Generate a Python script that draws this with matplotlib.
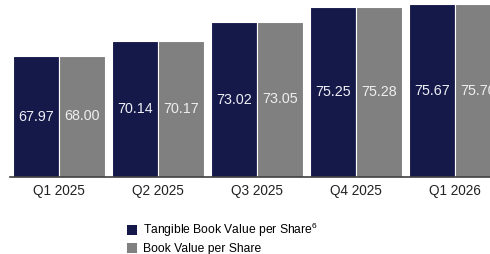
import numpy as np
import matplotlib
matplotlib.use('Agg')
import matplotlib.pyplot as plt
from matplotlib.patches import Patch

plt.rcParams['font.family'] = ['Liberation Sans', 'DejaVu Sans']
plt.rcParams['mathtext.fontset'] = 'custom'
plt.rcParams['mathtext.rm'] = 'Liberation Sans'
plt.rcParams['mathtext.it'] = 'Liberation Sans'

# data
quarters = ['Q1 2025', 'Q2 2025', 'Q3 2025', 'Q4 2025', 'Q1 2026']
tbvps = [67.97, 70.14, 73.02, 75.25, 75.67]
bvps = [68.00, 70.17, 73.05, 75.28, 75.70]

navy = '#15194a'
grey = '#808080'

fig = plt.figure(figsize=(4.9, 2.54), dpi=100)
ax = fig.add_axes([10/490, 77/254, 480/490, 177/254])

x = np.arange(len(quarters))
w = 0.465
off = 0.233
b1 = ax.bar(x - off, np.array(tbvps) - 50, w, bottom=50, color=navy,
            edgecolor='white', linewidth=0.8)
b2 = ax.bar(x + off, np.array(bvps) - 50, w, bottom=50, color=grey,
            edgecolor='white', linewidth=0.8)

for xi, v in zip(x, tbvps):
    ax.text(xi - off, (v + 50) / 2, f'{v:.2f}', ha='center', va='center',
            color='#eeeef4', fontsize=10.3)
for xi, v in zip(x, bvps):
    ax.text(xi + off, (v + 50) / 2, f'{v:.2f}', ha='center', va='center',
            color='#eeeeee', fontsize=10.3, clip_on=True)

ax.set_xlim(-0.495, 4.354)
ax.set_ylim(50, 76.3)
ax.set_xticks(x)
ax.set_xticklabels(quarters, fontsize=9.8, color='#222222')
ax.tick_params(axis='x', length=0, pad=5)
ax.set_yticks([])
for s in ['top', 'right', 'left']:
    ax.spines[s].set_visible(False)
ax.spines['bottom'].set_color('#404040')
ax.spines['bottom'].set_linewidth(1.2)

handles = [Patch(facecolor=navy, edgecolor='none'),
           Patch(facecolor=grey, edgecolor='none')]
labels = ['Tangible Book Value per Share$^6$', 'Book Value per Share']
fig.legend(handles, labels, loc='upper left', bbox_to_anchor=(117/490, 1 - 211/254),
           frameon=False, fontsize=8.7, handlelength=0.85, handleheight=0.85,
           handletextpad=0.5, labelspacing=0.35, borderpad=0.3)

fig.savefig('out.png', dpi=100)
